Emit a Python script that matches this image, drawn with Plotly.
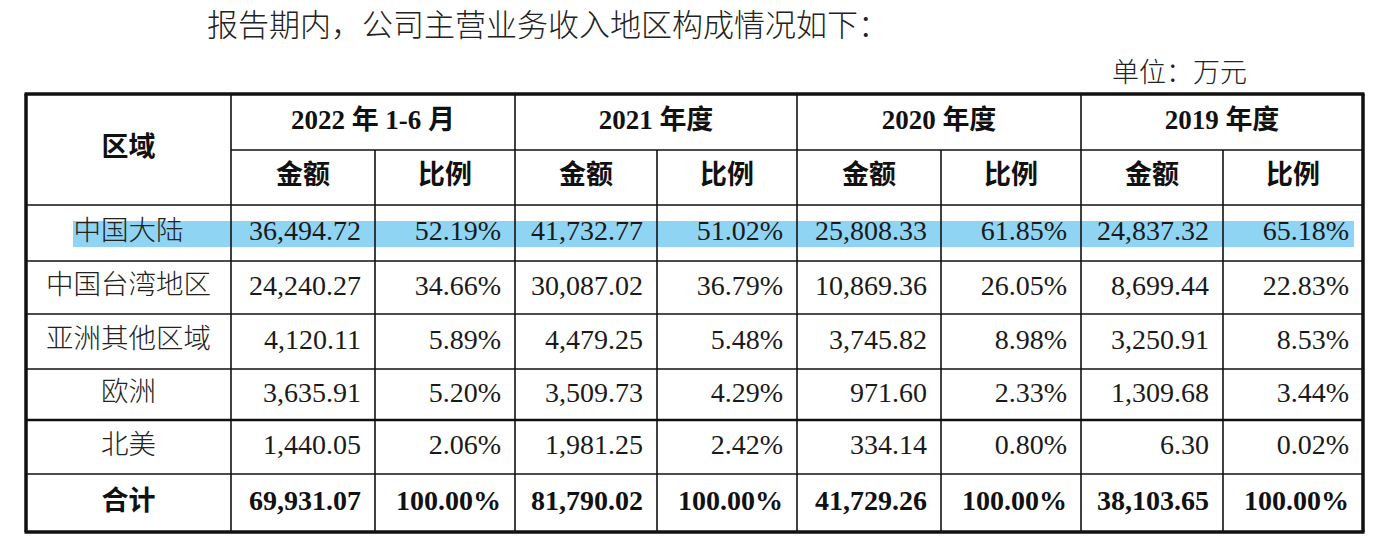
import plotly.graph_objects as go

# --- Table content ---
title_text = "报告期内，公司主营业务收入地区构成情况如下："
unit_text = "单位：万元"
region_header = "区域"
periods = ["2022 年 1-6 月", "2021 年度", "2020 年度", "2019 年度"]
sub_headers = ["金额", "比例"]
regions = ["中国大陆", "中国台湾地区", "亚洲其他区域", "欧洲", "北美"]
total_label = "合计"

amount_2022h1 = [36494.72, 24240.27, 4120.11, 3635.91, 1440.05]
share_2022h1 = [52.19, 34.66, 5.89, 5.20, 2.06]
amount_2021 = [41732.77, 30087.02, 4479.25, 3509.73, 1981.25]
share_2021 = [51.02, 36.79, 5.48, 4.29, 2.42]
amount_2020 = [25808.33, 10869.36, 3745.82, 971.60, 334.14]
share_2020 = [61.85, 26.05, 8.98, 2.33, 0.80]
amount_2019 = [24837.32, 8699.44, 3250.91, 1309.68, 6.30]
share_2019 = [65.18, 22.83, 8.53, 3.44, 0.02]

total_amount = [69931.07, 81790.02, 41729.26, 38103.65]
total_share = [100.00, 100.00, 100.00, 100.00]

# --- Geometry (page pixels) ---
W, H = 1384, 548
COL_EDGES = [26, 231, 375, 515, 657, 797, 941, 1081, 1223, 1363]
ROW_EDGES = [94, 150, 205, 261, 314, 369, 420, 474, 532]
PAD = 14
HILITE = "#8fd4f2"

SERIF = "Liberation Serif, Noto Sans CJK SC, serif"
CJK = "Noto Sans CJK SC, sans-serif"
HEAD_FONT = dict(family=SERIF, size=27, color="#111111", weight="bold")
CELL_FONT = dict(family=SERIF, size=28, color="#1a1a1a")
BOLD_CELL_FONT = dict(family=SERIF, size=28, color="#111111", weight="bold")
NAME_FONT = dict(family=CJK, size=27.5, color="#222222", weight=300)

amounts = [amount_2022h1, amount_2021, amount_2020, amount_2019]
shares = [share_2022h1, share_2021, share_2020, share_2019]


def mid(a, b):
    return (a + b) / 2


body_rows = [mid(ROW_EDGES[i], ROW_EDGES[i + 1]) for i in range(2, 7)]
total_row = mid(ROW_EDGES[7], ROW_EDGES[8])
col0_center = mid(COL_EDGES[0], COL_EDGES[1])

fig = go.Figure()

# region names + total label
fig.add_trace(go.Scatter(
    x=[col0_center] * len(regions), y=body_rows, text=regions,
    mode="text", textposition="middle center", textfont=NAME_FONT, hoverinfo="skip"
))
fig.add_trace(go.Scatter(
    x=[col0_center], y=[total_row], text=[total_label],
    mode="text", textposition="middle center",
    textfont=dict(family=CJK, size=27, color="#111111", weight="bold"), hoverinfo="skip"
))

# body values, right aligned in each cell
xs, ys, txt = [], [], []
for p in range(len(periods)):
    amt_right = COL_EDGES[2 + 2 * p] - PAD
    shr_right = COL_EDGES[3 + 2 * p] - PAD
    for r in range(len(regions)):
        xs += [amt_right, shr_right]
        ys += [body_rows[r], body_rows[r]]
        txt += [f"{amounts[p][r]:,.2f}", f"{shares[p][r]:.2f}%"]
fig.add_trace(go.Scatter(
    x=xs, y=ys, text=txt, mode="text", textposition="middle left",
    textfont=CELL_FONT, hoverinfo="skip"
))

# total row
xs, ys, txt = [], [], []
for p in range(len(periods)):
    xs += [COL_EDGES[2 + 2 * p] - PAD, COL_EDGES[3 + 2 * p] - PAD]
    ys += [total_row, total_row]
    txt += [f"{total_amount[p]:,.2f}", f"{total_share[p]:.2f}%"]
fig.add_trace(go.Scatter(
    x=xs, y=ys, text=txt, mode="text", textposition="middle left",
    textfont=BOLD_CELL_FONT, hoverinfo="skip"
))

# header
hx, hy, ht = [col0_center], [mid(ROW_EDGES[0], ROW_EDGES[2])], [region_header]
for p, name in enumerate(periods):
    hx.append(mid(COL_EDGES[1 + 2 * p], COL_EDGES[3 + 2 * p]))
    hy.append(mid(ROW_EDGES[0], ROW_EDGES[1]))
    ht.append(name)
    for k, s in enumerate(sub_headers):
        hx.append(mid(COL_EDGES[1 + 2 * p + k], COL_EDGES[2 + 2 * p + k]))
        hy.append(mid(ROW_EDGES[1], ROW_EDGES[2]))
        ht.append(s)
fig.add_trace(go.Scatter(
    x=hx, y=hy, text=ht, mode="text", textposition="middle center",
    textfont=HEAD_FONT, hoverinfo="skip"
))

# --- shapes: highlight band, grid lines ---
shapes = [dict(type="rect", x0=73, x1=1354, y0=221, y1=247,
               fillcolor=HILITE, line=dict(width=0), layer="below")]

def hline(y, x0, x1, w):
    return dict(type="line", x0=x0, x1=x1, y0=y, y1=y, line=dict(color="#111111", width=w))

def vline(x, y0, y1, w):
    return dict(type="line", x0=x, x1=x, y0=y0, y1=y1, line=dict(color="#111111", width=w))

top, bottom = ROW_EDGES[0], ROW_EDGES[-1]
left, right = COL_EDGES[0], COL_EDGES[-1]
shapes.append(hline(ROW_EDGES[1], COL_EDGES[1], right, 1.6))
for y in ROW_EDGES[2:-1]:
    shapes.append(hline(y, left, right, 2.6 if y == ROW_EDGES[6] else 1.6))
for i, x in enumerate(COL_EDGES[1:-1], start=1):
    shapes.append(vline(x, top if i % 2 == 1 else ROW_EDGES[1], bottom, 1.6))
shapes += [hline(top, left - 1.5, right + 1.5, 3.5), hline(bottom, left - 1.5, right + 1.5, 3.5),
           vline(left, top, bottom, 3.5), vline(right, top, bottom, 3.5)]

fig.update_layout(
    width=W, height=H,
    margin=dict(l=0, r=0, t=0, b=0),
    paper_bgcolor="white", plot_bgcolor="white",
    showlegend=False,
    xaxis=dict(range=[0, W], visible=False, fixedrange=True),
    yaxis=dict(range=[H, 0], visible=False, fixedrange=True),
    shapes=shapes,
    annotations=[
        dict(x=205, y=22, xref="x", yref="y", text=title_text, showarrow=False,
             xanchor="left", yanchor="middle", font=dict(family=CJK, size=31, color="#222222", weight=300)),
        dict(x=1110, y=70, xref="x", yref="y", text=unit_text, showarrow=False,
             xanchor="left", yanchor="middle", font=dict(family=CJK, size=27, color="#222222", weight=300)),
    ],
)

# drop the page's default body margin so the figure sits at the window origin
fig.write_html("out.html", config=dict(displayModeBar=False),
               post_script="document.body.style.margin='0';")
